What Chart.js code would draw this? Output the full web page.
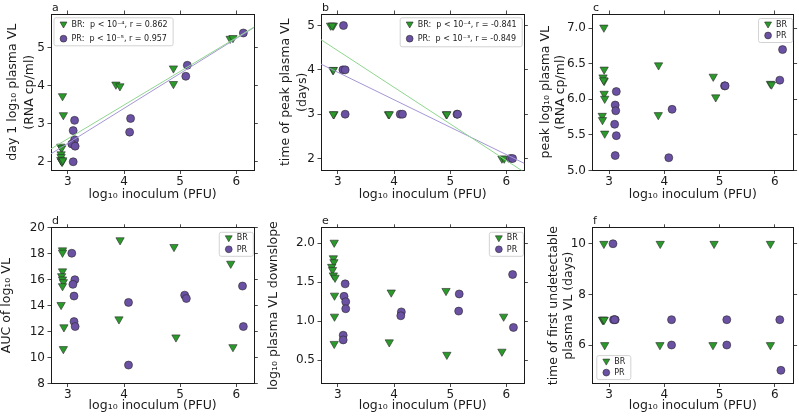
<!DOCTYPE html>
<html>
<head>
<meta charset="utf-8">
<script src="https://cdn.jsdelivr.net/npm/chart.js@4.4.1/dist/chart.umd.min.js"></script>
<style>
  html, body { margin: 0; padding: 0; background: #fff; }
  #wrap { position: relative; width: 799px; height: 416px; overflow: hidden; }
  #wrap canvas { position: absolute; }
</style>
</head>
<body>
<div id="wrap"></div>
<script>
// 6 panels: log10 inoculum (PFU) vs plasma VL metrics, BR (triangles) / PR (circles)

const X_TICKS = [3, 4, 5, 6];

// a — day 1 log10 plasma VL
const day1BR = [[2.905,3.73],[2.92,3.23],[2.875,2.40],[2.89,2.36],[2.88,2.20],[2.88,2.13],[2.875,2.05],[2.89,2.01],[2.90,2.00],[2.91,2.04],
                [3.856,4.035],[3.927,3.99],[4.88,4.46],[4.88,4.05],[5.89,5.24],[5.94,5.26]];
const day1PR = [[3.12,3.09],[3.095,2.82],[3.12,2.58],[3.07,2.47],[3.13,2.41],[3.095,2.00],
                [4.117,3.14],[4.10,2.78],[5.127,4.54],[5.10,4.25],[6.125,5.39]];
const day1FitBR = [[2.70,2.34],[6.32,5.55]];
const day1FitPR = [[2.70,2.21],[6.32,5.54]];
const day1Ticks = [2, 3, 4, 5];

// b — time of peak plasma VL (days)
const peakDayBR = [[2.87,5],[2.92,5],[2.90,5],[2.91,4],[2.92,4],[2.93,3],[2.92,3],
                   [3.90,3],[3.915,3],[4.93,3],[4.94,3],[5.92,2],[5.96,2]];
const peakDayPR = [[3.10,5],[3.09,4],[3.13,4],[3.13,3],[4.11,3],[4.15,3],[5.12,3],[5.13,3],[6.07,2],[6.11,2]];
const peakDayFitBR = [[2.70,4.68],[6.32,1.69]];
const peakDayFitPR = [[2.70,4.13],[6.32,1.89]];
const peakDayTicks = [2, 3, 4, 5];

// c — peak log10 plasma VL
const peakVlBR = [[2.905,7.01],[2.91,6.42],[2.89,6.31],[2.91,6.26],[2.90,6.27],[2.91,6.08],[2.92,6.01],[2.875,5.77],[2.88,5.71],[2.92,5.52],
                  [3.895,6.48],[3.89,5.78],[4.885,6.32],[4.93,6.03],[5.92,6.22],[5.94,6.21]];
const peakVlPR = [[3.13,6.11],[3.11,5.92],[3.12,5.84],[3.10,5.65],[3.13,5.49],[3.11,5.21],
                  [4.14,5.86],[4.08,5.18],[5.09,6.19],[5.10,6.19],[6.09,6.27],[6.14,6.70]];
const peakVlTicks = [5.0, 5.5, 6.0, 6.5, 7.0];

// d — AUC of log10 VL
const aucBR = [[2.905,18.27],[2.905,18.09],[2.905,16.65],[2.89,16.28],[2.905,16.03],[2.92,15.82],[2.905,15.51],[2.88,14.06],[2.93,12.34],[2.92,10.66],
               [3.93,19.05],[3.91,12.95],[4.89,18.53],[4.925,11.56],[5.90,17.24],[5.94,10.81]];
const aucPR = [[3.07,18.04],[3.125,16.00],[3.09,15.64],[3.11,14.74],[3.11,12.77],[3.13,12.39],
               [4.08,14.25],[4.08,9.42],[5.08,14.81],[5.11,14.55],[6.11,15.51],[6.125,12.39]];
const aucTicks = [8, 10, 12, 14, 16, 18, 20];

// e — log10 plasma VL downslope
const slopeBR = [[2.935,2.01],[2.92,1.81],[2.93,1.76],[2.89,1.70],[2.905,1.66],[2.92,1.59],[2.95,1.56],[2.94,1.33],[2.94,1.06],[2.935,0.71],
                 [3.95,1.37],[3.915,0.73],[4.925,1.39],[4.94,0.57],[5.95,1.06],[5.92,0.61]];
const slopePR = [[3.13,1.48],[3.11,1.32],[3.14,1.25],[3.14,1.16],[3.095,0.82],[3.095,0.76],
                 [4.13,1.12],[4.12,1.07],[5.16,1.35],[5.15,1.13],[6.11,1.60],[6.125,0.92]];
const slopeTicks = [0.5, 1.0, 1.5, 2.0];

// f — time of first undetectable plasma VL (days)
const undetBR = [[2.905,10],[2.88,7],[2.90,7],[2.89,7],[2.91,7],[2.92,6],
                 [3.925,10],[3.92,6],[4.90,10],[4.88,6],[5.92,10],[5.92,6]];
const undetPR = [[3.07,10],[3.08,7],[3.11,7],[3.10,7],[4.13,7],[4.13,6],[5.13,7],[5.13,6],[6.09,7],[6.11,5]];
const undetTicks = [6, 8, 10];

// ── style ──
const GREEN = '#2a9a2a', PURPLE = '#6a51a3', EDGE = '#2a2a2a';
const FIT_GREEN = '#8fd68f', FIT_PURPLE = '#a596d6';
const INK = '#1a1a1a';
const TICK_PX = 12, TITLE_PX = 12.5;
Chart.defaults.font.family = '"DejaVu Sans", sans-serif';
Chart.defaults.font.size = TICK_PX;
Chart.defaults.color = INK;

const PANELS = [
  { tag: 'a', cell: [0, 0, 266, 205],   box: [51, 14, 254.3, 170.5],  xr: [2.70, 6.32], yr: [1.77, 5.89],
    br: day1BR, pr: day1PR, fits: [day1FitBR, day1FitPR], yTicks: day1Ticks, dec: 0,
    title: ['day 1 log\u2081\u2080 plasma VL', '(RNA cp/ml)'], lh: 17.5, tpad: 3.5,
    legend: { anchor: 'ul', dx: 2.5, dy: 3.3, h: 28, first: 6.7, rowH: 14.7,
              rows: ['BR:  p < 10\u207B\u2074, r = 0.862', 'PR:  p < 10\u207B\u2075, r = 0.957'] } },
  { tag: 'b', cell: [266, 0, 266, 205], box: [321, 14, 524.4, 170.5], xr: [2.70, 6.32], yr: [1.73, 5.26],
    br: peakDayBR, pr: peakDayPR, fits: [peakDayFitBR, peakDayFitPR], yTicks: peakDayTicks, dec: 0,
    title: ['time of peak plasma VL', '(days)'], lh: 16.5, tpad: 11.7,
    legend: { anchor: 'ur', dx: 2.7, dy: 3.3, h: 29, first: 6.7, rowH: 14.7,
              rows: ['BR:  p < 10\u207B\u2074, r = -0.841', 'PR:  p < 10\u207B\u00B3, r = -0.849'] } },
  { tag: 'c', cell: [532, 0, 267, 205], box: [592, 14, 797.3, 170.5], xr: [2.69, 6.34], yr: [5.0, 7.2],
    br: peakVlBR, pr: peakVlPR, fits: [], yTicks: peakVlTicks, dec: 1,
    title: ['peak log\u2081\u2080 plasma VL', '(RNA cp/ml)'], lh: 15.7, tpad: 5.4,
    legend: { anchor: 'ur', dx: 1.5, dy: 4, h: 24, first: 6, rowH: 11.5, rows: ['BR', 'PR'] } },
  { tag: 'd', cell: [0, 205, 266, 211],   box: [51, 227.8, 254.3, 383.5],  xr: [2.70, 6.32], yr: [8, 20],
    br: aucBR, pr: aucPR, fits: [], yTicks: aucTicks, dec: 0,
    title: 'AUC of log\u2081\u2080 VL', lh: 14, tpad: 0,
    legend: { anchor: 'ur', dx: 1.5, dy: 4, h: 24, first: 6, rowH: 11.5, rows: ['BR', 'PR'] } },
  { tag: 'e', cell: [266, 205, 266, 211], box: [321, 227.8, 524.4, 383.5], xr: [2.70, 6.32], yr: [0.2, 2.2],
    br: slopeBR, pr: slopePR, fits: [], yTicks: slopeTicks, dec: 1,
    title: 'log\u2081\u2080 plasma VL downslope', lh: 14, tpad: 0.7,
    legend: { anchor: 'ur', dx: 1.5, dy: 4, h: 24, first: 6, rowH: 11.5, rows: ['BR', 'PR'] } },
  { tag: 'f', cell: [532, 205, 267, 211], box: [592, 227.8, 797.3, 383.5], xr: [2.69, 6.34], yr: [4.48, 10.63],
    br: undetBR, pr: undetPR, fits: [], yTicks: undetTicks, dec: 0,
    title: ['time of first undetectable', 'plasma VL (days)'], lh: 15, tpad: 13.8,
    legend: { anchor: 'll', dx: 4.3, dy: 4.4, h: 24, first: 6, rowH: 11.5, rows: ['BR', 'PR'] } },
];

// marker drawing shared by the legend
function drawMarker(ctx, kind, x, y, r) {
  ctx.beginPath();
  if (kind === 'BR') {
    ctx.moveTo(x, y + r);
    ctx.lineTo(x - r * 0.866, y - r * 0.5);
    ctx.lineTo(x + r * 0.866, y - r * 0.5);
    ctx.closePath();
    ctx.fillStyle = GREEN;
  } else {
    ctx.arc(x, y, r, 0, Math.PI * 2);
    ctx.fillStyle = PURPLE;
  }
  ctx.fill();
  ctx.lineWidth = 0.6;
  ctx.strokeStyle = EDGE;
  ctx.stroke();
}

const boxLegend = {
  id: 'boxLegend',
  afterDatasetsDraw(chart, args, o) {
    if (!o || !o.rows) return;
    const { ctx, chartArea: ca } = chart;
    ctx.save();
    ctx.font = '8px "DejaVu Sans"';
    const tw = Math.max(...o.rows.map(t => ctx.measureText(t).width));
    const w = 18 + tw + 5, h = o.h;
    const x = o.anchor === 'ul' || o.anchor === 'll' ? ca.left + o.dx : ca.right - o.dx - w;
    const y = o.anchor === 'll' ? ca.bottom - o.dy - h : ca.top + o.dy;
    ctx.beginPath();
    ctx.roundRect(x + 0.5, y + 0.5, w, h, 2);
    ctx.fillStyle = 'rgba(255,255,255,0.85)';
    ctx.fill();
    ctx.strokeStyle = '#d2d2d2';
    ctx.lineWidth = 1;
    ctx.stroke();
    o.rows.forEach((t, i) => {
      const ry = y + o.first + i * o.rowH;
      drawMarker(ctx, i === 0 ? 'BR' : 'PR', x + 10, ry, i === 0 ? 4 : 3.4);
      ctx.fillStyle = INK;
      ctx.textBaseline = 'middle';
      ctx.fillText(t, x + 18, ry + 0.5);
    });
    ctx.restore();
  }
};

const panelTag = {
  id: 'panelTag',
  afterDraw(chart, args, o) {
    const { ctx, chartArea: ca } = chart;
    ctx.save();
    ctx.font = '11px "DejaVu Sans"';
    ctx.fillStyle = INK;
    ctx.textBaseline = 'alphabetic';
    ctx.fillText(o.text, ca.left + 1, ca.top - 3.5);
    ctx.restore();
  }
};

const pts = arr => arr.map(([x, y]) => ({ x, y }));
const GRID = { drawOnChartArea: false, drawTicks: true, tickLength: 3.5, color: INK, tickColor: INK, lineWidth: 0.8 };
const BORDER = { display: true, color: INK, width: 1 };

function makePanel(p) {
  const [cl, ct, cw, ch] = p.cell;
  const [bl, bt, br, bb] = p.box;
  const cv = document.createElement('canvas');
  cv.width = cw; cv.height = ch;
  cv.style.left = cl + 'px'; cv.style.top = ct + 'px';
  document.getElementById('wrap').appendChild(cv);

  const datasets = [
    { label: 'BR', data: pts(p.br), pointStyle: 'triangle', pointRotation: 180, pointRadius: 4.8,
      pointBackgroundColor: GREEN, pointBorderColor: EDGE, pointBorderWidth: 0.6, order: 2 },
    { label: 'PR', data: pts(p.pr), pointStyle: 'circle', pointRadius: 4,
      pointBackgroundColor: PURPLE, pointBorderColor: EDGE, pointBorderWidth: 0.6, order: 1 },
  ];
  p.fits.forEach((f, i) => datasets.push({
    label: i ? 'PR fit' : 'BR fit', data: pts(f), showLine: true, pointRadius: 0,
    borderColor: i ? FIT_PURPLE : FIT_GREEN, borderWidth: 1, clip: 0, order: 0,
  }));

  const xTicks = s => { s.ticks = X_TICKS.map(v => ({ value: v })); };
  const yTicks = s => { s.ticks = p.yTicks.map(v => ({ value: v })); };

  new Chart(cv.getContext('2d'), {
    type: 'scatter',
    data: { datasets },
    options: {
      responsive: false, animation: false, devicePixelRatio: 1,
      layout: { padding: 0 },
      plugins: {
        legend: { display: false }, tooltip: { enabled: false },
        boxLegend: p.legend, panelTag: { text: p.tag },
      },
      scales: {
        x: {
          type: 'linear', position: 'bottom', min: p.xr[0], max: p.xr[1],
          afterBuildTicks: xTicks, afterFit: s => { s.height = ct + ch - bb; },
          grid: GRID, border: BORDER,
          ticks: { padding: 1, maxRotation: 0, autoSkip: false, callback: v => String(v) },
          title: { display: true, text: 'log\u2081\u2080 inoculum (PFU)', font: { size: TITLE_PX, lineHeight: '15px' },
                   padding: { top: 0, bottom: 3 } },
        },
        x2: {
          type: 'linear', position: 'top', min: p.xr[0], max: p.xr[1],
          afterBuildTicks: xTicks, afterFit: s => { s.height = bt - ct; },
          grid: GRID, border: BORDER, ticks: { display: false },
        },
        y: {
          type: 'linear', position: 'left', min: p.yr[0], max: p.yr[1],
          afterBuildTicks: yTicks, afterFit: s => { s.width = bl - cl; },
          grid: GRID, border: BORDER,
          ticks: { padding: 2.5, autoSkip: false, callback: v => v.toFixed(p.dec) },
          title: { display: true, text: p.title, font: { size: TITLE_PX, lineHeight: p.lh + 'px' },
                   padding: { top: p.tpad, bottom: 0 } },
        },
        y2: {
          type: 'linear', position: 'right', min: p.yr[0], max: p.yr[1],
          afterBuildTicks: yTicks, afterFit: s => { s.width = cl + cw - br; },
          grid: GRID, border: BORDER, ticks: { display: false },
        },
      },
    },
    plugins: [boxLegend, panelTag],
  });
}

PANELS.forEach(makePanel);
</script>
</body>
</html>
